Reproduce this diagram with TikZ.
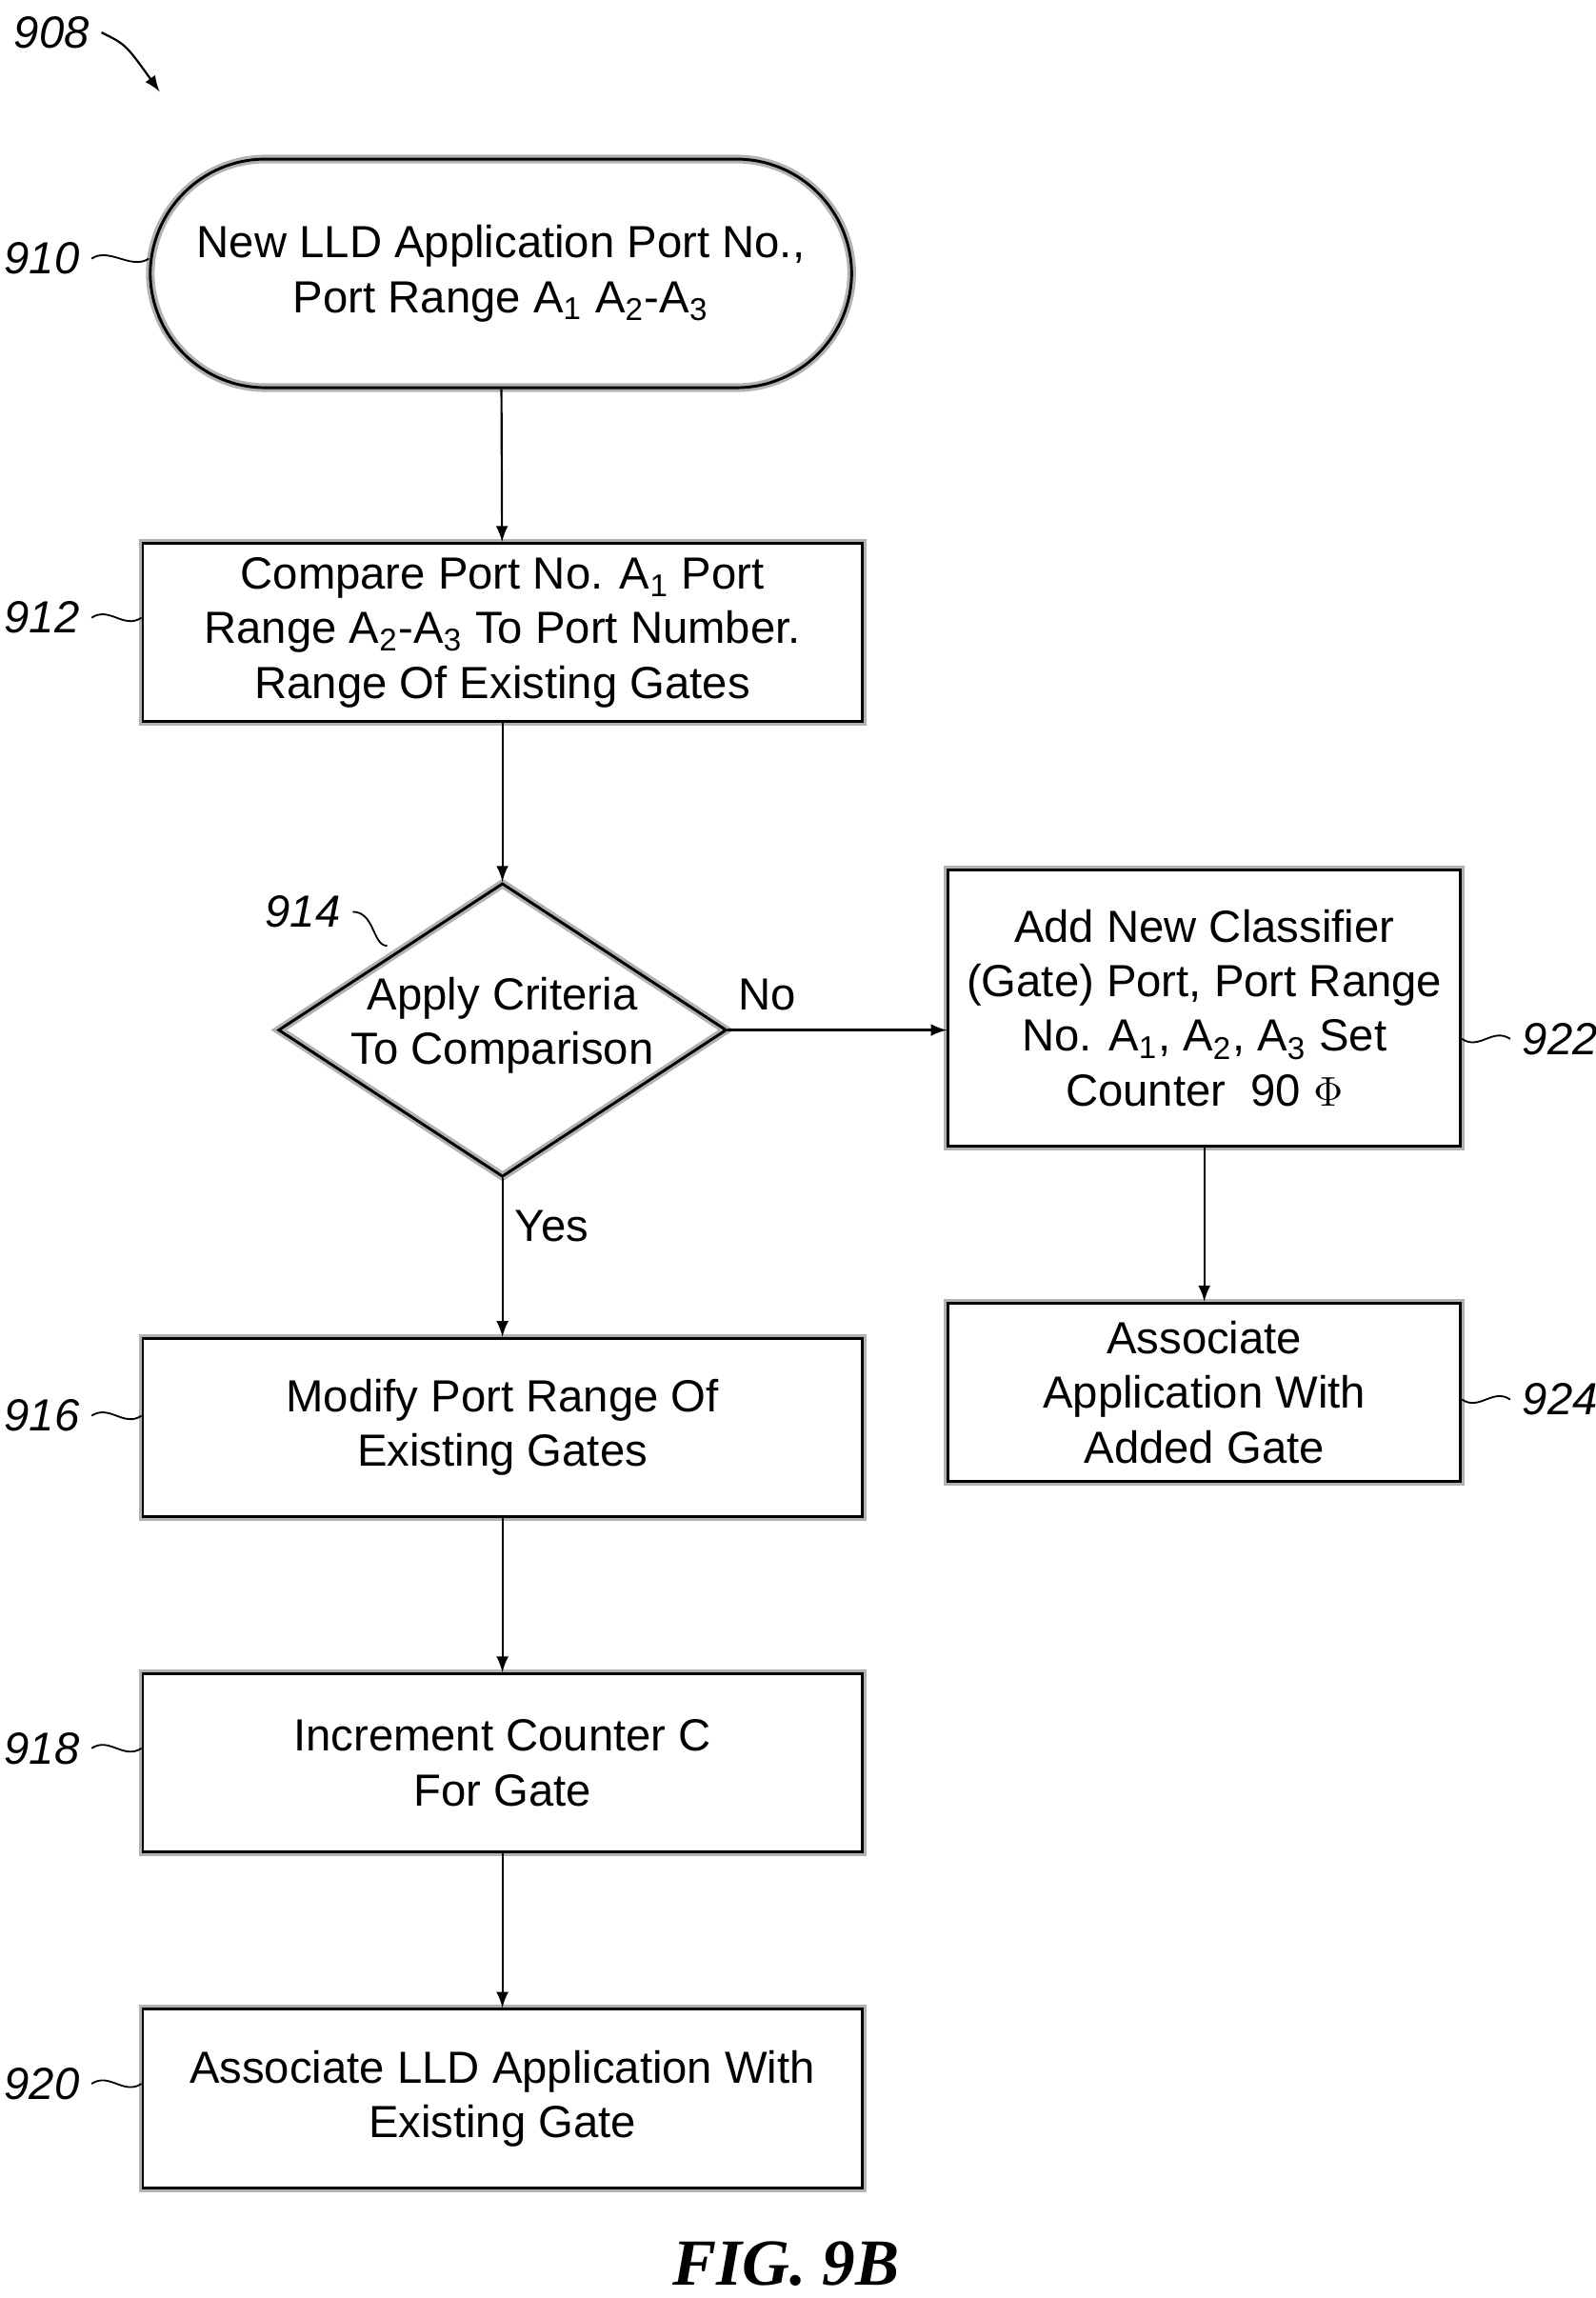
\documentclass[tikz,border=0pt]{standalone}
\usepackage{fontspec}
\setmainfont{Liberation Sans}
\newfontfamily\figfont{Liberation Serif}
\usetikzlibrary{shapes.geometric,positioning}
\newcommand{\sub}[1]{\textsubscript{#1}}
\tikzset{
  shade box/.style={preaction={draw, line width=2.5pt, gray!60, transform canvas={shift={(0.04,-0.04)}}}},
}
\begin{document}
\begin{tikzpicture}[>=latex, x=0.015cm, y=-0.015cm,
  every node/.style={font=\fontsize{13}{15.8}\selectfont, align=center},
  box/.style={draw, line width=0.8pt, minimum width=7.3cm, minimum height=1.81cm, fill=white, shade box},
  sbox/.style={box, minimum width=5.2cm},
  lbl/.style={font=\itshape\fontsize{13}{15}\selectfont},
  line/.style={->, line width=0.6pt},
  tick/.style={line width=0.5pt}]

\useasboundingbox (0,0) rectangle (1080,1555);

\node[lbl] (l908) at (35,22) {908};
\draw[->, line width=0.6pt] (l908.east) .. controls (85,30) .. (108,62);

\node[draw, line width=0.8pt, rounded corners=1.17cm, minimum width=7.12cm,
  minimum height=2.32cm, shade box] (start) at (339,185)
  {New LLD Application Port No.,\\Port Range A\sub{1} A\sub{2}-A\sub{3}};
\node[box] (cmp) at (340,428) {Compare Port No. A\sub{1} Port\\Range A\sub{2}-A\sub{3} To Port Number.\\Range Of Existing Gates};
\node[diamond, draw, line width=0.8pt, minimum width=4.55cm, minimum height=2.98cm, inner sep=0pt,
  shade box] (crit) at (340,697) {};
\node (critt) at (340,694) {Apply Criteria\\To Comparison};
\node[sbox, minimum height=2.8cm] (add) at (815,682) {Add New Classifier\\(Gate) Port, Port Range\\No. A\sub{1}, A\sub{2}, A\sub{3} Set\\Counter\ \ 90 $\Phi$};
\node[sbox] (assoc) at (815,942) {Associate\\Application With\\Added Gate};
\node[box] (mod) at (340,966) {Modify Port Range Of\\Existing Gates};
\node[box] (inc) at (340,1193) {Increment Counter C\\For Gate};
\node[box] (exist) at (340,1420) {Associate LLD Application With\\Existing Gate};

\draw[line] (start) -- (cmp);
\draw[line] (cmp) -- (crit.north);
\draw[line] (crit.east) -- node[above, pos=0.18, yshift=2pt] {No} (add.west |- crit.east);
\draw[line] (crit.south) -- node[right, pos=0.3] {Yes} (mod);
\draw[line] (add) -- (assoc);
\draw[line] (mod) -- (inc);
\draw[line] (inc) -- (exist);

% reference numerals
\foreach \t/\y/\n in {910/175/start, 912/418/cmp, 916/958/mod, 918/1183/inc, 920/1410/exist} {
  \node[lbl, anchor=east] (l\t) at (62,\y) {\t};
  \draw[tick] (l\t.east) .. controls +(12,-8) and +(-12,8) .. (\n.west |- 0,\y);
}
\foreach \t/\y/\n in {922/703/add, 924/947/assoc} {
  \node[lbl, anchor=west] (l\t) at (1022,\y) {\t};
  \draw[tick] (l\t.west) .. controls +(-12,-8) and +(12,8) .. (\n.east |- 0,\y);
}
\node[lbl] (l914) at (205,617) {914};
\draw[tick] (l914.east) .. controls +(15,0) and +(-10,0) .. (262,640);

\node[font=\figfont\bfseries\itshape\fontsize{19}{22}\selectfont] (fig) at (532,1532) {FIG. 9B};
\end{tikzpicture}
\end{document}
